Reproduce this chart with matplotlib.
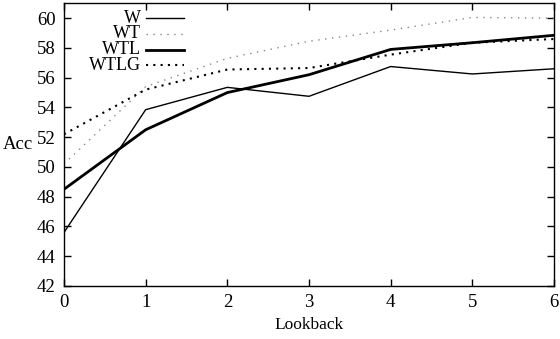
import matplotlib
matplotlib.use('Agg')
import matplotlib.pyplot as plt
from matplotlib.lines import Line2D

plt.rcParams['font.family'] = ['Liberation Serif', 'DejaVu Serif']

# Data
lookback = [0, 1, 2, 3, 4, 5, 6]
acc_w = [45.6, 53.85, 55.35, 54.75, 56.75, 56.25, 56.6]
acc_wt = [50.2, 55.4, 57.3, 58.45, 59.2, 60.05, 60.0]
acc_wtl = [48.5, 52.5, 55.0, 56.2, 57.9, 58.35, 58.85]
acc_wtlg = [52.2, 55.2, 56.55, 56.65, 57.55, 58.35, 58.6]
names = ['W', 'WT', 'WTL', 'WTLG']

# Styles
styles = [
    dict(color='black', lw=1.0, ls='-'),
    dict(color='#888888', lw=1.0, ls=(0, (1, 4))),
    dict(color='black', lw=2.0, ls='-'),
    dict(color='black', lw=1.5, ls=(0, (1, 2.5))),
]

fig = plt.figure(figsize=(5.6, 3.39), dpi=100)
ax = fig.add_axes([64 / 560, 53 / 339, 490 / 560, 282.7 / 339])

for vals, st in zip([acc_w, acc_wt, acc_wtl, acc_wtlg], styles):
    ax.plot(lookback, vals, **st)

ax.set_xlim(0, 6)
ax.set_ylim(42, 61)
ax.set_xticks(lookback)
ax.set_yticks(range(42, 61, 2))
ax.tick_params(direction='in', length=5, width=1, top=True, right=True, labelsize=13.5, pad=6)
for s in ax.spines.values():
    s.set_linewidth(1.0)

ax.set_xlabel('Lookback', fontsize=12.5)
ax.xaxis.set_label_coords(0.5, -0.138)
ax.xaxis.label.set_va('center')
ax.set_ylabel('Acc', fontsize=13.5, rotation=0, ha='center', va='center')
ax.yaxis.set_label_coords(-0.095, 0.5)

# gnuplot-style key: right-aligned labels with sample lines
row_y = [0.947, 0.892, 0.836, 0.780]
for name, st, yy in zip(names, styles, row_y):
    ax.text(0.157, yy, name, transform=ax.transAxes, ha='right', va='center', fontsize=13)
    ax.add_line(Line2D([0.167, 0.245], [yy, yy], transform=ax.transAxes, **st))

plt.savefig('out.png', dpi=100)
